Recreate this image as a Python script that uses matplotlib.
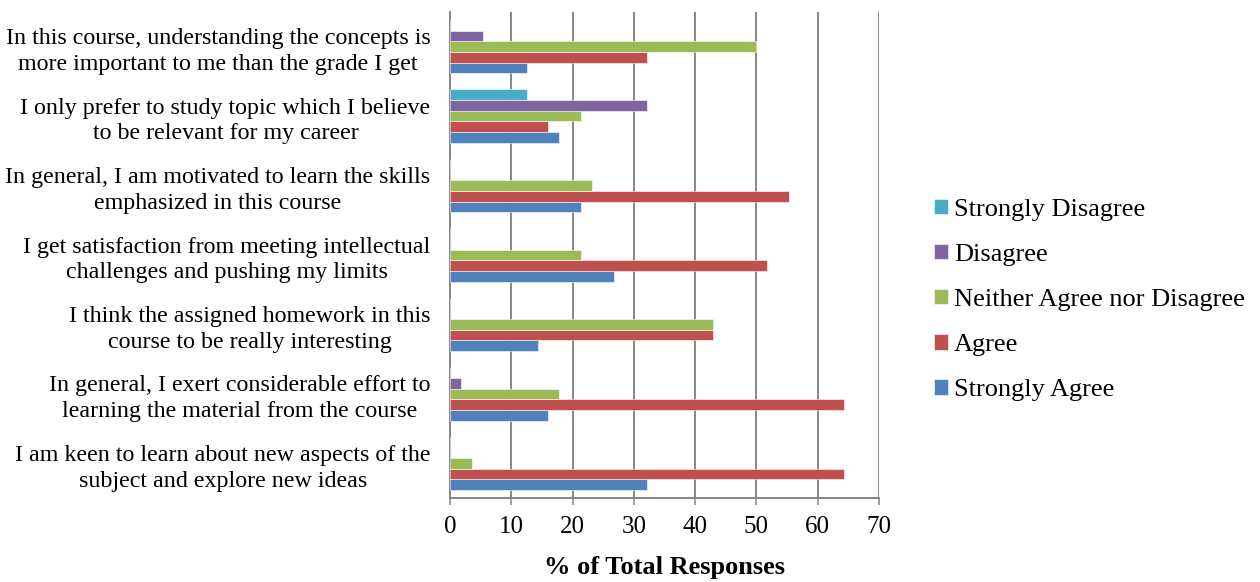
import matplotlib
matplotlib.use("Agg")
import matplotlib.pyplot as plt
import numpy as np

categories = [
    "I am keen to learn about new aspects of the\nsubject and explore new ideas",
    "In general, I exert considerable effort to\nlearning the material from the course",
    "I think the assigned homework in this\ncourse to be really interesting",
    "I get satisfaction from meeting intellectual\nchallenges and pushing my limits",
    "In general, I am motivated to learn the skills\nemphasized in this course",
    "I only prefer to study topic which I believe\nto be relevant for my career",
    "In this course, understanding the concepts is\nmore important to me than the grade I get",
]
strongly_agree = [32.14, 16.07, 14.29, 26.79, 21.43, 17.86, 12.50]
agree = [64.29, 64.29, 42.86, 51.79, 55.36, 16.07, 32.14]
neither = [3.57, 17.86, 42.86, 21.43, 23.21, 21.43, 50.00]
disagree = [0, 1.79, 0, 0, 0, 32.14, 5.36]
strongly_disagree = [0, 0, 0, 0, 0, 12.50, 0]

series_names = ["Strongly Agree", "Agree", "Neither Agree nor Disagree", "Disagree", "Strongly Disagree"]
series_vals = [strongly_agree, agree, neither, disagree, strongly_disagree]
colors = ["#4F81BD", "#C0504D", "#9BBB59", "#8064A2", "#4BACC6"]
xticks = [0, 10, 20, 30, 40, 50, 60, 70]

plt.rcParams['font.family'] = ['Liberation Serif', 'DejaVu Serif']

fig = plt.figure(figsize=(12.6, 5.82), dpi=100)
ax = fig.add_axes([450/1260, (582-498)/582, (879-450)/1260, (498-12)/582])

y = np.arange(len(categories))
w = 1.0 / 6.5
handles = []
for i, (name, vals, c) in enumerate(zip(series_names, series_vals, colors)):
    h = ax.barh(y + (i - 2) * w, vals, height=w, color=c, label=name, zorder=3,
                edgecolor='white', linewidth=0.4)
    handles.append(h)

ax.set_xlim(0, 70)
ax.set_ylim(-0.5, len(categories) - 0.5)
ax.set_xticks(xticks)
ax.set_xticklabels([str(t) for t in xticks], fontsize=18)
ax.set_yticks(y)
ax.set_yticklabels(categories, fontsize=17.3, multialignment='center', linespacing=1.3)
ax.tick_params(axis='y', length=0, pad=14)
ax.tick_params(axis='x', length=5, width=1.1, color='#868686', pad=8)
ax.grid(axis='x', color='#868686', linewidth=1.4, zorder=0)
ax.set_axisbelow(True)
for s in ['top', 'right']:
    ax.spines[s].set_visible(False)
for s in ['left', 'bottom']:
    ax.spines[s].set_color('#868686')
    ax.spines[s].set_linewidth(1.4)
ax.set_xlabel("% of Total Responses", fontsize=19, fontweight='bold', labelpad=13)

leg = fig.legend(handles[::-1], series_names[::-1], loc='center left',
                 bbox_to_anchor=(934/1260, 1 - 300/582), frameon=False, fontsize=19,
                 handlelength=0.53, handleheight=0.53, handletextpad=0.23,
                 labelspacing=0.87, borderpad=0, borderaxespad=0)

fig.savefig("out.png", dpi=100)
